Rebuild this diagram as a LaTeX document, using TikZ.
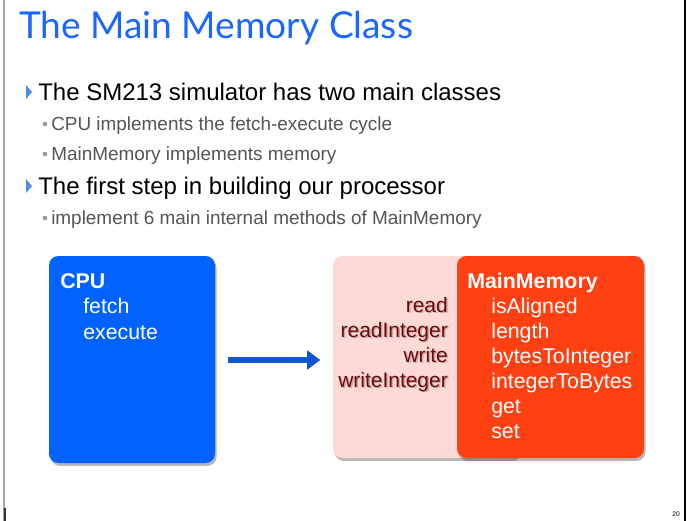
\documentclass[tikz,border=0pt]{standalone}
\usepackage{fontspec}
\setmainfont{Liberation Sans}
\newfontfamily\titlefont{Lato}
\usetikzlibrary{shadows,arrows.meta}

\definecolor{titleblue}{HTML}{1A66FF}
\definecolor{cpublue}{HTML}{0062FF}
\definecolor{arrowblue}{HTML}{1155D0}
\definecolor{pinkbg}{HTML}{FDDAD6}
\definecolor{memorange}{HTML}{FF4013}
\definecolor{darkred}{HTML}{6A0A0A}
\definecolor{subgray}{HTML}{555555}
\definecolor{bulletgray}{HTML}{9A9A9A}
\definecolor{bulletblue}{HTML}{4A8FE0}

\tikzset{
  classbox/.style={rounded corners=7pt, inner sep=0pt,
    drop shadow={shadow xshift=1.2pt, shadow yshift=-2.2pt, opacity=0.4, fill=black!70}},
  lvlone/.style={anchor=base west, inner sep=0pt, font=\fontsize{18}{20}\selectfont, text=black},
  lvltwo/.style={anchor=base west, inner sep=0pt, font=\fontsize{14.2}{16}\selectfont, text=subgray},
  tri/.style={fill=bulletblue, draw=none},
  dot/.style={circle, fill=bulletgray, inner sep=0pt, minimum size=3.5pt},
  boxhead/.style={anchor=base west, inner sep=0pt, font=\bfseries\fontsize{16}{18}\selectfont, text=white},
  boxitem/.style={anchor=base west, inner sep=0pt, font=\fontsize{16}{18}\selectfont, text=white},
  pinkitem/.style={anchor=base east, inner sep=0pt, font=\fontsize{15.7}{18}\selectfont, text=darkred},
}

\begin{document}
\begin{tikzpicture}[x=0.75pt, y=-0.75pt]
  \useasboundingbox (0,0) rectangle (689,521);
  \fill[white] (0,0) rectangle (689,521);

  % slide frame
  \draw[gray!70, line width=1.2pt] (4,0) -- (4,521);
  \draw[black!80, line width=1.5pt] (4.5,508) -- (4.5,521);
  \draw[black, line width=1.2pt] (685,0) -- (685,521);

  % title
  \node[anchor=base west, inner sep=0pt, text=titleblue,
        font=\titlefont\fontsize{27.8}{30}\selectfont] (title) at (19,38) {The Main Memory Class};

  % bullet list
  \fill[tri] (26,85) -- (32,92) -- (26,99) -- cycle;
  \node[lvlone] (b1) at (38,100) {The SM213 simulator has two main classes};
  \node[dot] (d1) at (45,124) {};
  \node[lvltwo] (b11) at (51,130) {CPU implements the fetch-execute cycle};
  \node[dot] (d2) at (45,154) {};
  \node[lvltwo] (b12) at (51,160) {MainMemory implements memory};
  \fill[tri] (26,179) -- (32,186) -- (26,193) -- cycle;
  \node[lvlone] (b2) at (38,194) {The first step in building our processor};
  \node[dot] (d3) at (45,218) {};
  \node[lvltwo] (b21) at (51,224) {implement 6 main internal methods of MainMemory};

  % CPU class box
  \path[classbox, fill=cpublue] (49,256) rectangle (215,463);
  \coordinate (cpuE) at (215,360);
  \node[boxhead] (cpuh) at (60,288) {CPU};
  \node[boxitem] (cpu1) at (83,313) {fetch};
  \node[boxitem] (cpu2) at (83,339) {execute};

  % MainMemory: public interface (pink) behind internal methods (orange)
  \path[classbox, fill=pinkbg] (333,256) rectangle (520,458);
  \coordinate (memW) at (333,360);
  \path[classbox, fill=memorange] (457,256) rectangle (644,458);

  \foreach \t/\yy/\n in {read/312/p1, readInteger/337/p2, write/362/p3, writeInteger/387/p4}{
    \node[pinkitem, text=darkred!40, opacity=0.8] at (449.5,\yy+1.5) {\t};
    \node[pinkitem] (\n) at (448,\yy) {\t};
  }

  \node[boxhead] (memh) at (467,288) {MainMemory};
  \node[boxitem] (m1) at (491,313) {isAligned};
  \node[boxitem] (m2) at (491,338) {length};
  \node[boxitem] (m3) at (491,363) {bytesToInteger};
  \node[boxitem] (m4) at (491,388) {integerToBytes};
  \node[boxitem] (m5) at (491,413) {get};
  \node[boxitem] (m6) at (491,438) {set};

  % call arrow from CPU to memory
  \draw[arrowblue, line width=3.8pt, -{Triangle[length=10pt,width=14pt]},
        shorten <=9.5pt, shorten >=9.5pt] (cpuE) -- (memW);

  % page number
  \node[anchor=base east, inner sep=0pt, font=\fontsize{5}{6}\selectfont] (pg) at (680,516) {20};
\end{tikzpicture}
\end{document}
